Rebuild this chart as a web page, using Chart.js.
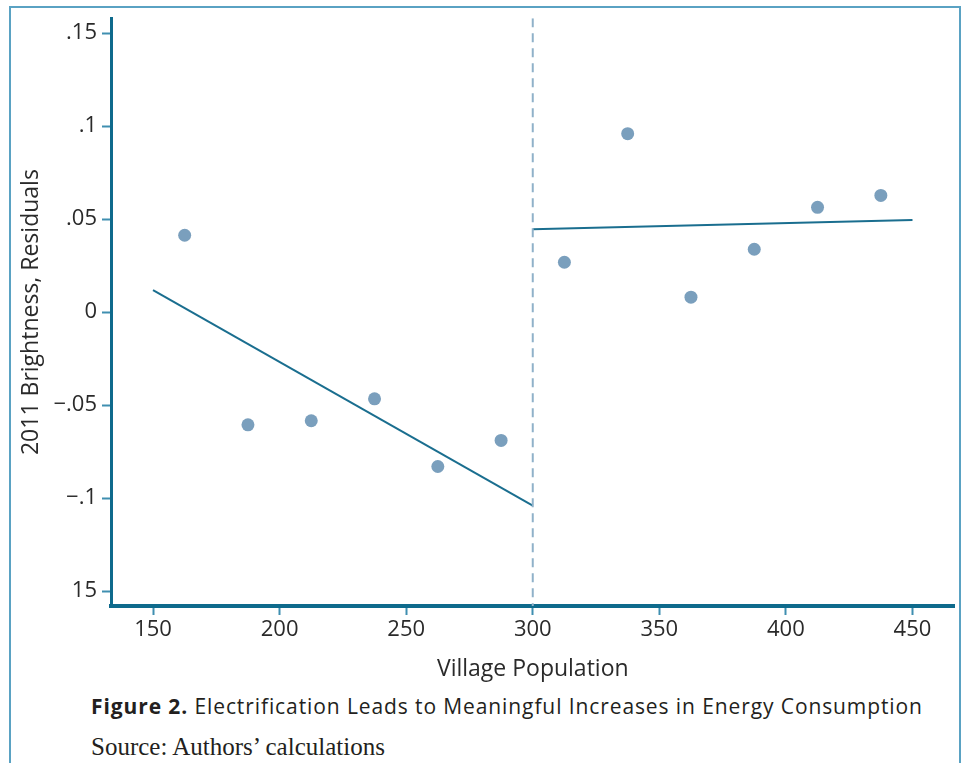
<!DOCTYPE html>
<html>
<head>
<meta charset="utf-8">
<script src="https://cdn.jsdelivr.net/npm/chart.js@4"></script>
<style>
  html, body { margin: 0; padding: 0; background: #fff; }
  body { width: 961px; height: 763px; position: relative; overflow: hidden; }
  #frame {
    position: absolute; left: 9px; top: 6px; width: 948px; height: 800px;
    border: 2px solid #5aa2c3; border-bottom: none;
  }
  #wrap { position: absolute; left: 0; top: 0; width: 961px; height: 690px; }
  .caption {
    position: absolute; left: 91px; top: 692px;
    font-family: "Open Sans", sans-serif; font-size: 21px; letter-spacing: 0.9px; color: #231f20;
    white-space: nowrap;
  }
  .caption b { font-weight: 700; }
  .source {
    position: absolute; left: 91px; top: 733px;
    font-family: "Liberation Serif", "DejaVu Serif", serif; font-size: 25px; color: #231f20;
    white-space: nowrap;
  }
</style>
</head>
<body>
<div id="frame"></div>
<div id="wrap"><canvas id="chart"></canvas></div>
<div class="caption"><b>Figure 2.</b> Electrification Leads to Meaningful Increases in Energy Consumption</div>
<div class="source">Source: Authors’ calculations</div>
<script>
// bins (village population) and residuals
const popBins = [162.5, 187.5, 212.5, 237.5, 262.5, 287.5, 312.5, 337.5, 362.5, 387.5, 412.5, 437.5];
const residuals = [0.0413, -0.0606, -0.0584, -0.0466, -0.083, -0.069, 0.0268, 0.0959, 0.008, 0.0338, 0.0563, 0.0627];

// fitted lines either side of the cutoff
const leftFitX = [150, 300];
const leftFitY = [0.0118, -0.104];
const rightFitX = [300, 450];
const rightFitY = [0.0445, 0.0495];

const cutoff = 300;

const xTicks = [150, 200, 250, 300, 350, 400, 450];
const yTickValues = [-0.15, -0.1, -0.05, 0, 0.05, 0.1, 0.15];
const yTickLabels = ['15', '\u2212.1', '\u2212.05', '0', '.05', '.1', '.15'];

const xMin = 133.4, xMax = 466.6;
const yMin = -0.158, yMax = 0.158;

const axisColor = '#0e6a8c';
const tickColor = '#3f8fb0';
const fontFam = '"Open Sans", sans-serif';

const toPts = (xs, ys) => xs.map((x, i) => ({x: x, y: ys[i]}));

new Chart(document.getElementById('chart'), {
    type: 'scatter',
    data: {
        datasets: [
            {
                label: 'cutoff',
                data: [{x: cutoff, y: yMax}, {x: cutoff, y: yMin}],
                showLine: true,
                borderColor: '#8fb1c9',
                borderWidth: 2,
                borderDash: [9, 6],
                pointRadius: 0
            },
            {
                label: 'fit left',
                data: toPts(leftFitX, leftFitY),
                showLine: true,
                borderColor: '#1a6e8f',
                borderWidth: 2,
                pointRadius: 0
            },
            {
                label: 'fit right',
                data: toPts(rightFitX, rightFitY),
                showLine: true,
                borderColor: '#1a6e8f',
                borderWidth: 2,
                pointRadius: 0
            },
            {
                label: 'residuals',
                data: toPts(popBins, residuals),
                backgroundColor: '#7a9fbd',
                borderColor: '#7a9fbd',
                borderWidth: 0,
                pointRadius: 6.5
            }
        ]
    },
    options: {
        responsive: true,
        maintainAspectRatio: false,
        animation: false,
        layout: { padding: { left: 0, top: 17, right: 6, bottom: 0 } },
        plugins: { legend: { display: false }, tooltip: { enabled: false } },
        scales: {
            x: {
                type: 'linear',
                min: xMin,
                max: xMax,
                afterBuildTicks: (axis) => { axis.ticks = xTicks.map(v => ({value: v})); },
                afterFit: (axis) => { axis.height = 84; },
                ticks: {
                    color: '#2a2a2a',
                    font: { family: fontFam, size: 22 },
                    padding: 2,
                    maxRotation: 0
                },
                grid: {
                    drawOnChartArea: false,
                    drawTicks: true,
                    tickLength: 9,
                    tickWidth: 2,
                    tickColor: tickColor
                },
                border: { display: true, color: axisColor, width: 4 },
                title: {
                    display: true,
                    text: 'Village Population',
                    color: '#2a2a2a',
                    font: { family: fontFam, size: 23 },
                    padding: { top: 0, bottom: 7 }
                }
            },
            y: {
                type: 'linear',
                min: yMin,
                max: yMax,
                afterBuildTicks: (axis) => { axis.ticks = yTickValues.map(v => ({value: v})); },
                afterFit: (axis) => { axis.width = 111; },
                ticks: {
                    color: '#2a2a2a',
                    font: { family: fontFam, size: 22 },
                    padding: 5,
                    callback: (v) => {
                        const i = yTickValues.findIndex(t => Math.abs(t - v) < 1e-9);
                        return i >= 0 ? yTickLabels[i] : '';
                    }
                },
                grid: {
                    drawOnChartArea: false,
                    drawTicks: true,
                    tickLength: 9,
                    tickWidth: 2,
                    tickColor: tickColor
                },
                border: { display: true, color: axisColor, width: 3 },
                title: {
                    display: true,
                    text: '2011 Brightness, Residuals',
                    color: '#2a2a2a',
                    font: { family: fontFam, size: 23 },
                    padding: { top: 18, bottom: 0 }
                }
            }
        }
    }
});
</script>
</body>
</html>
